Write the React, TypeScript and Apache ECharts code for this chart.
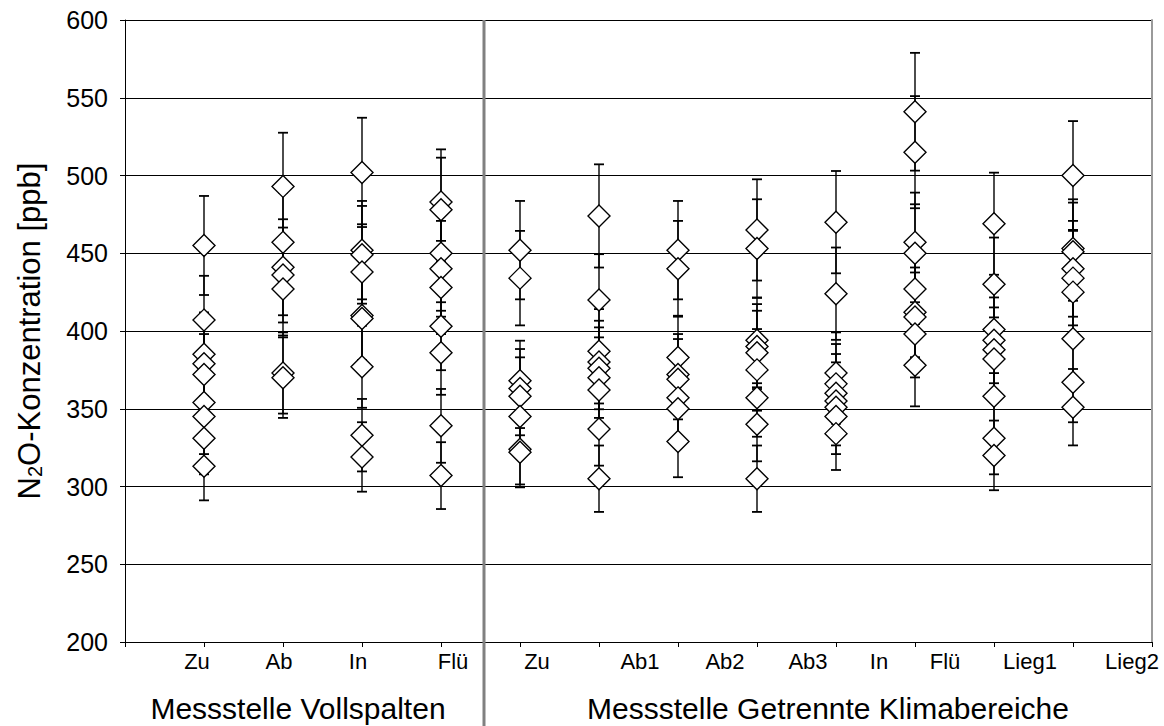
import React, { useEffect, useRef } from 'react';
import * as echarts from 'echarts';

// ---- data ----
const Y_MIN = 200;
const Y_MAX = 600;
const Y_STEP = 50;
const ERROR_PERCENT = 7; // percentage error bars

const GROUP_LEFT = 'Messstelle Vollspalten';
const GROUP_RIGHT = 'Messstelle Getrennte Klimabereiche';
const LEFT_LABELS = ['Zu', 'Ab', 'In', 'Flü'];
const RIGHT_LABELS = ['Zu', 'Ab1', 'Ab2', 'Ab3', 'In', 'Flü', 'Lieg1', 'Lieg2'];

const vsZu = [455, 407, 385, 379, 372, 354, 345, 331, 313];
const vsAb = [493, 457, 441, 436, 427, 373, 370];
const vsIn = [502, 452, 449, 438, 410, 408, 377, 333, 319];
const vsFlu = [483, 478, 450, 440, 428, 403, 386, 339, 307];
const gkZu = [452, 434, 368, 363, 358, 345, 324, 322];
const gkAb1 = [474, 420, 387, 380, 376, 370, 362, 337, 305];
const gkAb2 = [452, 440, 383, 372, 369, 357, 350, 329];
const gkAb3 = [465, 453, 394, 390, 386, 375, 357, 340, 305];
const gkIn = [470, 424, 373, 366, 360, 355, 351, 345, 334];
const gkFlu = [541, 515, 457, 450, 427, 412, 409, 398, 378];
const gkLieg1 = [469, 430, 401, 394, 388, 382, 358, 331, 320];
const gkLieg2 = [500, 453, 451, 440, 434, 425, 395, 367, 351];

// column order along the x axis (positions 1..12), axis spans 0..13
const COLUMNS = [vsZu, vsAb, vsIn, vsFlu, gkZu, gkAb1, gkAb2, gkAb3, gkIn, gkFlu, gkLieg1, gkLieg2];
const X_MAX = 13;

// ---- layout (pixels) ----
const W = 1164;
const H = 726;
const FONT = '"Liberation Sans", Arial, Helvetica, sans-serif';
const LABEL_PX = [197, 279, 358, 453, 537, 640, 725, 808, 879, 945, 1030, 1132];
const LABEL_Y = 661;
const GROUP_Y = 708;
const GROUP_X = [298, 828];
const SEP_X = 484;

export default function App() {
  const ref = useRef<HTMLDivElement>(null);

  useEffect(() => {
    if (!ref.current) return;
    const chart = echarts.init(ref.current, undefined, { renderer: 'svg' });

    const points: number[][] = [];
    const errs: number[][] = [];
    COLUMNS.forEach((arr, i) => {
      arr.forEach((v) => {
        points.push([i + 1, v]);
        errs.push([i + 1, v * (1 - ERROR_PERCENT / 100), v * (1 + ERROR_PERCENT / 100)]);
      });
    });

    const allLabels = [...LEFT_LABELS, ...RIGHT_LABELS];
    const labelTexts = allLabels.map((t, i) => ({
      type: 'text',
      x: LABEL_PX[i],
      y: LABEL_Y,
      style: {
        text: t,
        fontSize: 22,
        fontFamily: FONT,
        fill: '#000',
        align: 'center',
        verticalAlign: 'middle',
      },
    }));

    const option: any = {
      animation: false,
      backgroundColor: '#fff',
      grid: { left: 125, right: W - 1152, top: 20, bottom: H - 642, containLabel: false },
      xAxis: {
        type: 'value',
        min: 0,
        max: X_MAX,
        interval: 1,
        axisLine: { show: true, lineStyle: { color: '#000', width: 1 } },
        axisTick: { show: true, length: 5, lineStyle: { color: '#000' } },
        axisLabel: { show: false },
        splitLine: { show: false },
      },
      yAxis: [
        {
          type: 'value',
          min: Y_MIN,
          max: Y_MAX,
          interval: Y_STEP,
          name: '{n|N}{s|2}{n|O-Konzentration [ppb]}',
          nameLocation: 'middle',
          nameGap: 80,
          nameTextStyle: {
            color: '#000',
            rich: {
              n: { fontSize: 31, fontFamily: FONT, color: '#000', lineHeight: 31 },
              s: { fontSize: 20, fontFamily: FONT, color: '#000', lineHeight: 20, verticalAlign: 'bottom' },
            },
          },
          axisLine: { show: true, lineStyle: { color: '#000', width: 1 } },
          axisTick: { show: true, length: 5, lineStyle: { color: '#000' } },
          axisLabel: { color: '#000', fontSize: 25, fontFamily: FONT, margin: 17 },
          splitLine: { show: true, lineStyle: { color: '#000', width: 1 } },
        },
        {
          type: 'value',
          position: 'right',
          min: Y_MIN,
          max: Y_MAX,
          interval: Y_STEP,
          axisLine: { show: true, lineStyle: { color: '#9a9a9a', width: 2 } },
          axisTick: { show: false },
          axisLabel: { show: false },
          splitLine: { show: false },
        },
      ],
      series: [
        {
          type: 'custom',
          name: 'Fehler',
          z: 2,
          data: errs,
          encode: { x: 0, y: [1, 2] },
          renderItem: (params: any, api: any) => {
            const x = api.value(0);
            const lo = api.coord([x, api.value(1)]);
            const hi = api.coord([x, api.value(2)]);
            const hw = 5;
            const st = { stroke: '#000', lineWidth: 1.4 };
            return {
              type: 'group',
              children: [
                { type: 'line', shape: { x1: hi[0], y1: hi[1], x2: lo[0], y2: lo[1] }, style: st },
                { type: 'line', shape: { x1: hi[0] - hw, y1: hi[1], x2: hi[0] + hw, y2: hi[1] }, style: { stroke: '#000', lineWidth: 1.8 } },
                { type: 'line', shape: { x1: lo[0] - hw, y1: lo[1], x2: lo[0] + hw, y2: lo[1] }, style: { stroke: '#000', lineWidth: 1.8 } },
              ],
            };
          },
        },
        {
          type: 'scatter',
          name: 'N2O',
          z: 3,
          symbol: 'diamond',
          symbolSize: [22, 22],
          itemStyle: { color: '#fff', borderColor: '#000', borderWidth: 1.4, opacity: 1 },
          data: points,
        },
      ],
      graphic: [
        ...labelTexts,
        {
          type: 'text',
          x: GROUP_X[0],
          y: GROUP_Y,
          style: { text: GROUP_LEFT, fontSize: 30, fontFamily: FONT, fill: '#000', align: 'center', verticalAlign: 'middle' },
        },
        {
          type: 'text',
          x: GROUP_X[1],
          y: GROUP_Y,
          style: { text: GROUP_RIGHT, fontSize: 30, fontFamily: FONT, fill: '#000', align: 'center', verticalAlign: 'middle' },
        },
        {
          type: 'line',
          z: 100,
          shape: { x1: SEP_X, y1: 20, x2: SEP_X, y2: H },
          style: { stroke: '#808080', lineWidth: 3 },
        },
      ],
    };

    chart.setOption(option);
    return () => chart.dispose();
  }, []);

  return (
    <div
      ref={ref}
      style={{ position: 'fixed', left: 0, top: 0, width: W, height: H, background: '#fff' }}
    />
  );
}
